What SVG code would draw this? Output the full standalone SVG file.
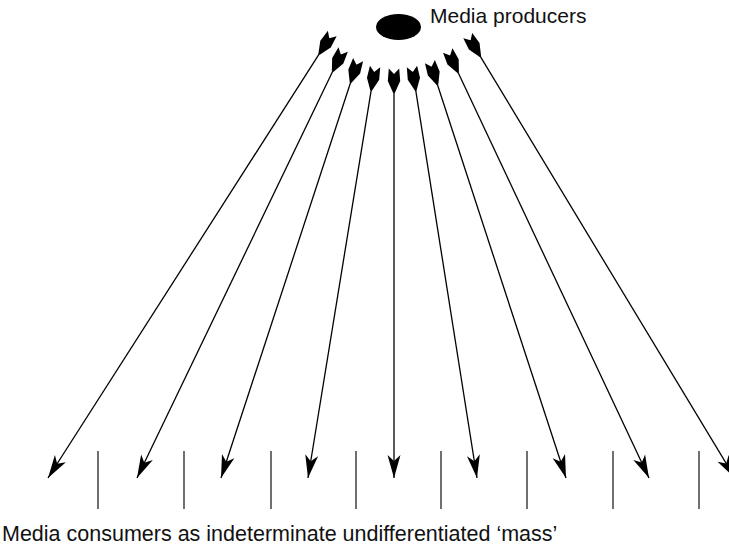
<svg xmlns="http://www.w3.org/2000/svg" width="729" height="548" viewBox="0 0 729 548">
<style>
.lbl{font-family:"Liberation Sans",Arial,sans-serif;fill:#111;}
.arrow{stroke:#000;stroke-width:1.3;fill:none;marker-start:url(#fletch);marker-end:url(#head);}
.div{stroke:#333;stroke-width:1.4;}
</style>
<defs>
<marker id="head" markerUnits="userSpaceOnUse" orient="auto" markerWidth="40" markerHeight="40" refX="0" refY="0" viewBox="-30 -15 40 30" overflow="visible">
<path d="M0,0 L-23,-6.5 L-17,0 L-23,6.5 Z" fill="#000"/>
</marker>
<marker id="fletch" markerUnits="userSpaceOnUse" orient="auto" markerWidth="40" markerHeight="40" refX="0" refY="0" viewBox="-10 -15 40 30" overflow="visible">
<path d="M-5.5,-5.2 L0,0 L-5.5,5.2 L7,6.2 L19,0.8 L19,-0.8 L7,-6.2 Z" fill="#000"/>
</marker>
</defs>
<g id="producers">
<ellipse cx="398.5" cy="27" rx="22.5" ry="13" fill="#000"/>
<text class="lbl" x="430" y="23" font-size="21">Media producers</text>
</g>
<g id="connectors">
<line class="arrow" x1="329.3" y1="38.2" x2="48" y2="478"/>
<line class="arrow" x1="340.8" y1="54.5" x2="137" y2="478"/>
<line class="arrow" x1="356.4" y1="64.8" x2="221" y2="478"/>
<line class="arrow" x1="374.2" y1="71.9" x2="308" y2="478"/>
<line class="arrow" x1="394" y1="74" x2="394" y2="478"/>
<line class="arrow" x1="412.8" y1="71.9" x2="477" y2="478"/>
<line class="arrow" x1="431.6" y1="66.8" x2="566" y2="478"/>
<line class="arrow" x1="450.1" y1="55.5" x2="649" y2="478"/>
<line class="arrow" x1="470.6" y1="40.3" x2="735" y2="478"/>
</g>
<g id="consumers">
<line class="div" x1="98" y1="451" x2="98" y2="509"/>
<line class="div" x1="184" y1="451" x2="184" y2="509"/>
<line class="div" x1="271" y1="451" x2="271" y2="509"/>
<line class="div" x1="356" y1="451" x2="356" y2="509"/>
<line class="div" x1="441" y1="451" x2="441" y2="509"/>
<line class="div" x1="527" y1="451" x2="527" y2="509"/>
<line class="div" x1="613" y1="451" x2="613" y2="509"/>
<line class="div" x1="699" y1="451" x2="699" y2="509"/>
<text class="lbl" x="2" y="541" font-size="21.5">Media consumers as indeterminate undifferentiated ‘mass’</text>
</g>
</svg>
